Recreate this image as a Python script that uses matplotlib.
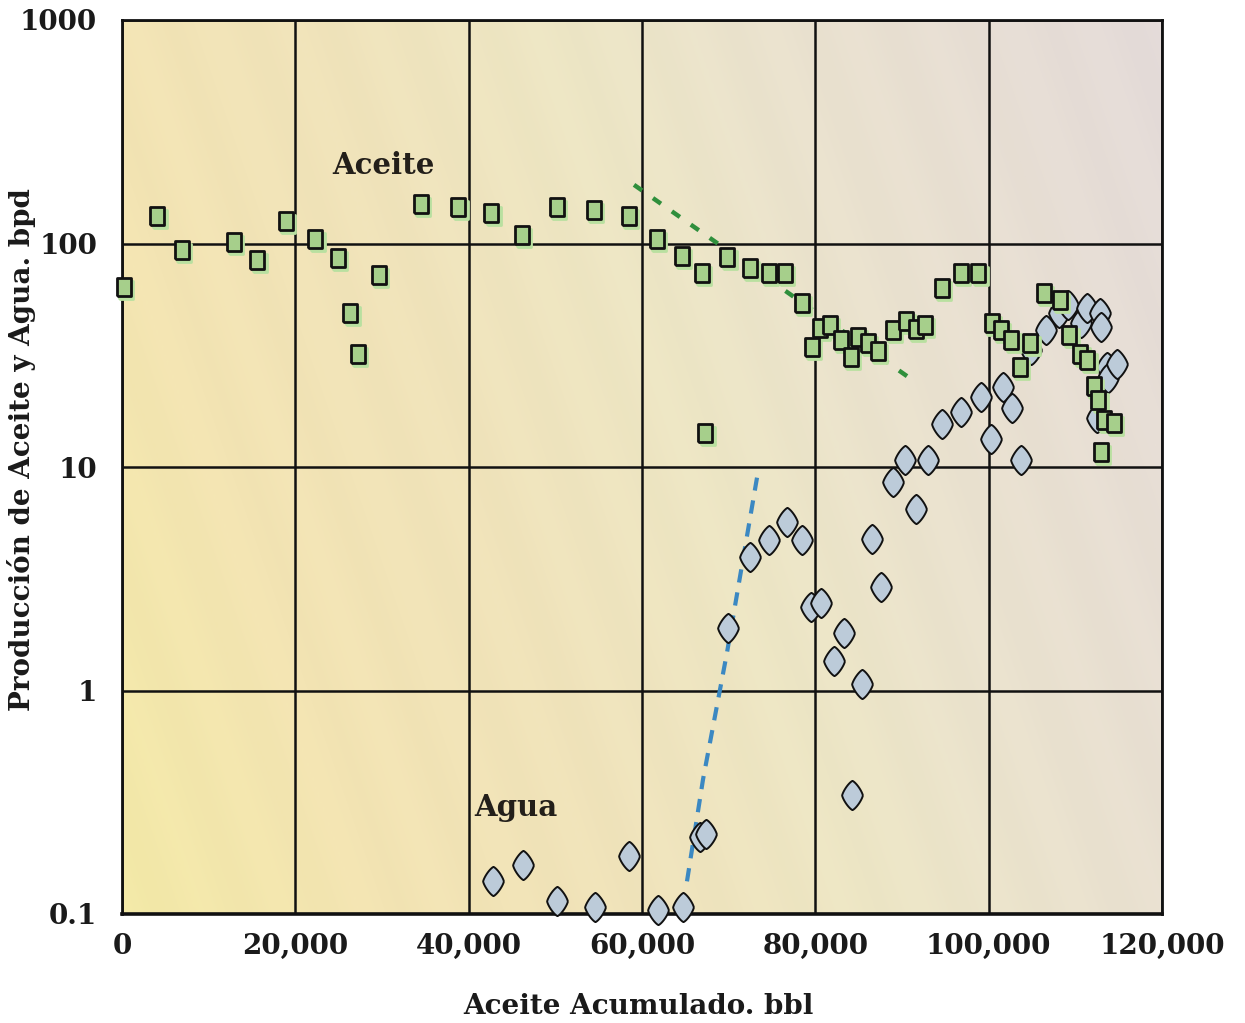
import numpy as np
import matplotlib
matplotlib.use("Agg")
import matplotlib.pyplot as plt
from matplotlib.colors import LinearSegmentedColormap
from matplotlib.transforms import offset_copy

# Cumulative oil (bbl) and oil rate (bpd)
oil_x = [230, 4040, 6920, 12920, 15580, 18920, 22270, 24920, 26310, 27230,
         29650, 34500, 38770, 42580, 46150, 50190, 54460, 58500, 61730, 64610,
         66920, 67270, 69810, 72460, 74650, 76500, 78460, 79610, 80540, 81690,
         82960, 84110, 84920, 86070, 87230, 88960, 90460, 91610, 92650, 94610,
         96800, 98770, 100380, 101420, 102580, 103610, 104770, 106380, 108230,
         109270, 110540, 111350, 112150, 112620, 113310, 114460, 112960]
oil_q = [64, 133, 94, 102, 84, 126, 105, 86, 49, 32,
         72, 150, 146, 137, 109, 146, 141, 133, 105, 88,
         74, 14.2, 87, 78, 74, 74, 54, 34.5, 42, 43,
         37, 31, 38, 36, 33, 41, 45, 41.5, 43, 63,
         74, 74, 44, 41, 37, 28, 36, 60, 56,
         39, 32, 30, 23, 20, 16.3, 15.8, 11.7]

# Cumulative oil (bbl) and water rate (bpd)
wat_x = [42810, 46270, 50190, 54570, 58500, 61850, 64730, 66690, 67380, 69920,
         72460, 74650, 76730, 78460, 79500, 80650, 82150, 83310, 84230, 85380,
         86540, 87580, 88960, 90340, 91610, 93000, 94610, 96800, 99110, 100270,
         101650, 102690, 103730, 104880, 106610, 108120, 109150, 110650, 111350,
         112850, 112960, 113650, 113770, 114810, 112500]
wat_q = [0.14, 0.165, 0.114, 0.107, 0.181, 0.104, 0.107, 0.222, 0.227, 1.91,
         3.97, 4.73, 5.7, 4.73, 2.37, 2.47, 1.35, 1.80, 0.34, 1.07,
         4.78, 2.89, 8.6, 10.7, 6.5, 10.7, 15.6, 17.7, 20.6, 13.4,
         22.9, 18.4, 10.7, 33.4, 41, 49, 53, 44, 51.5,
         49, 42.4, 28, 25, 29, 16.6]

# Trend lines
oil_trend_x = [59080, 91150]
oil_trend_q = [183, 24.6]
wat_trend_x = [65190, 67040, 69810, 73270]
wat_trend_q = [0.14, 0.40, 1.48, 8.96]

x_ticks = [0, 20000, 40000, 60000, 80000, 100000, 120000]
x_tick_labels = ["0", "20,000", "40,000", "60,000", "80,000", "100,000", "120,000"]
y_ticks = [0.1, 1, 10, 100, 1000]
y_tick_labels = ["0.1", "1", "10", "100", "1000"]

W, H, DPI = 1245, 1023, 100
fig = plt.figure(figsize=(W / DPI, H / DPI), dpi=DPI, facecolor="white")
pos = [122 / W, 1 - 914 / H, (1162 - 122) / W, (914 - 20) / H]

# Background gradient panel with faint slanted streaks
bg = fig.add_axes(pos, zorder=0)
ny, nx = 300, 400
xx, yy = np.meshgrid(np.linspace(0, 1, nx), np.linspace(0, 1, ny))  # yy: 0 top, 1 bottom
u = xx - 0.30 * yy
stops = [(-0.30, "#f2e8a6"), (-0.05, "#f2e3b2"), (0.18, "#efe2b9"), (0.42, "#ece5c4"),
         (0.62, "#e9e1cd"), (0.82, "#e6ddd3"), (1.0, "#e3dad8")]
lo, hi = stops[0][0], stops[-1][0]
cmap = LinearSegmentedColormap.from_list(
    "bgc", [((p - lo) / (hi - lo), c) for p, c in stops])
img = cmap((u - lo) / (hi - lo))[..., :3]
streak = 0.010 * np.sin(2 * np.pi * (u * 6.5 + 0.2)) ** 2
img = np.clip(img + streak[..., None], 0, 1)
bg.imshow(img, extent=[0, 1, 0, 1], aspect="auto", interpolation="bilinear")
bg.set_xlim(0, 1)
bg.set_ylim(0, 1)
bg.axis("off")

ax = fig.add_axes(pos, zorder=1)
ax.set_facecolor("none")
ax.set_yscale("log")
ax.set_xlim(0, 120000)
ax.set_ylim(0.1, 1000)

ax.grid(True, which="major", color="#111111", linewidth=1.8, zorder=1)
ax.minorticks_off()
ax.set_axisbelow(True)
for side, sp in ax.spines.items():
    sp.set_color("#111111")
    sp.set_linewidth(2.0)
ax.spines["bottom"].set_linewidth(2.6)

# Custom marker shapes
rect = [(-0.41, -0.5), (0.41, -0.5), (0.41, 0.5), (-0.41, 0.5), (-0.41, -0.5)]
t = np.linspace(0, 2 * np.pi, 81)
p = 1.3
dx = 0.71 * np.sign(np.cos(t)) * np.abs(np.cos(t)) ** (2 / p)
dy = 1.0 * np.sign(np.sin(t)) * np.abs(np.sin(t)) ** (2 / p)
lens = list(zip(dx, dy))

# Trend lines
ax.plot(wat_trend_x, wat_trend_q, color="#3b88c2", linewidth=3.0,
        dashes=(3.2, 2.4), zorder=2, solid_capstyle="butt")
ax.plot(oil_trend_x, oil_trend_q, color="#2f8f3c", linewidth=3.2,
        dashes=(2.2, 3.0), zorder=2)

# Water points
ax.plot(wat_x, wat_q, linestyle="none", marker=lens, markersize=21,
        markerfacecolor="#bccbd9", markeredgecolor="#111111",
        markeredgewidth=1.4, zorder=3, clip_on=False)

# Oil points with a soft green shadow
shadow = offset_copy(ax.transData, fig=fig, x=2.5, y=-3.0, units="dots")
ax.plot(oil_x, oil_q, linestyle="none", marker=rect, markersize=12.3,
        markerfacecolor="#b9e0a0", markeredgecolor="#b9e0a0",
        markeredgewidth=2.0, zorder=4, clip_on=False, transform=shadow)
ax.plot(oil_x, oil_q, linestyle="none", marker=rect, markersize=12.3,
        markerfacecolor="#a6cf8b", markeredgecolor="#111111",
        markeredgewidth=2.0, zorder=5, clip_on=False)

tick_font = dict(family="DejaVu Serif", weight="bold", size=20, color="#1a1a1a")
ax.set_xticks(x_ticks)
ax.set_xticklabels(x_tick_labels, fontdict=tick_font)
ax.set_yticks(y_ticks)
ax.set_yticklabels(y_tick_labels, fontdict=tick_font)
ax.tick_params(axis="both", length=0)
ax.tick_params(axis="x", pad=14)
ax.tick_params(axis="y", pad=18)

label_font = dict(family="DejaVu Serif", weight="bold", size=20, color="#1a1a1a")
fig.text(638 / W, 1 - 1007 / H, "Aceite Acumulado. bbl", fontdict=label_font,
         ha="center", va="center")
fig.text(22 / W, 1 - 450 / H, "Producción de Aceite y Agua. bpd", fontdict=label_font,
         ha="center", va="center", rotation=90)

ann_font = dict(family="DejaVu Serif", weight="bold", size=21, color="#231f1a")
ax.text(24300, 224, "Aceite", fontdict=ann_font, ha="left", va="center", zorder=6)
ax.text(40700, 0.30, "Agua", fontdict=ann_font, ha="left", va="center", zorder=6)

fig.savefig("out.png", dpi=DPI, facecolor="white")
